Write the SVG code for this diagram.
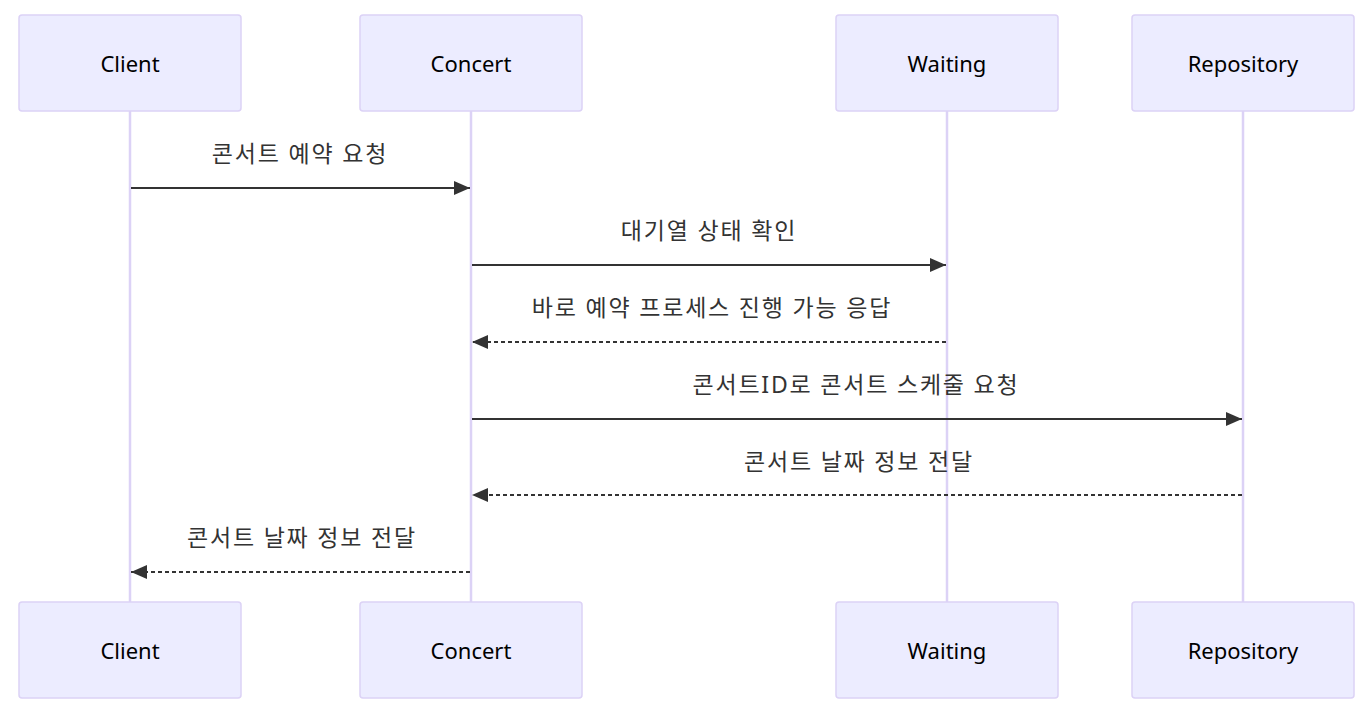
<svg xmlns="http://www.w3.org/2000/svg" width="1368" height="715" viewBox="0 0 1368 715">
<style>
.actor{fill:#ECECFF;stroke:#DCD2F6;stroke-width:1.5}
.life{stroke:#DCD2F6;stroke-width:2.5}
.atext{font-family:"Noto Sans","Noto Sans CJK KR",sans-serif;font-size:22px;fill:#000;text-anchor:middle;dominant-baseline:central}
.mtext{font-family:"Noto Sans","Noto Sans CJK KR",sans-serif;font-size:23px;letter-spacing:1.8px;fill:#333;text-anchor:middle;dominant-baseline:central}
.msg{stroke:#333;stroke-width:2;fill:none}
.dash{stroke-dasharray:4,3}
</style>
<defs>
<marker id="ah" viewBox="0 0 16 14" refX="16" refY="7" markerWidth="16" markerHeight="14" markerUnits="userSpaceOnUse" orient="auto">
<path d="M0,0 L16,7 L0,14 z" fill="#333"/>
</marker>
</defs>
<g id="lifelines">
<line class="life" x1="130" y1="111" x2="130" y2="602"/>
<line class="life" x1="471" y1="111" x2="471" y2="602"/>
<line class="life" x1="947" y1="111" x2="947" y2="602"/>
<line class="life" x1="1243" y1="111" x2="1243" y2="602"/>
</g>
<g id="actor-client-top"><rect class="actor" x="19" y="15" width="222" height="96" rx="3"/><text class="atext" x="130" y="63">Client</text></g>
<g id="actor-concert-top"><rect class="actor" x="360" y="15" width="222" height="96" rx="3"/><text class="atext" x="471" y="63">Concert</text></g>
<g id="actor-waiting-top"><rect class="actor" x="836" y="15" width="222" height="96" rx="3"/><text class="atext" x="947" y="63">Waiting</text></g>
<g id="actor-repository-top"><rect class="actor" x="1132" y="15" width="222" height="96" rx="3"/><text class="atext" x="1243" y="63">Repository</text></g>
<g id="actor-client-bottom"><rect class="actor" x="19" y="602" width="222" height="96" rx="3"/><text class="atext" x="130" y="650">Client</text></g>
<g id="actor-concert-bottom"><rect class="actor" x="360" y="602" width="222" height="96" rx="3"/><text class="atext" x="471" y="650">Concert</text></g>
<g id="actor-waiting-bottom"><rect class="actor" x="836" y="602" width="222" height="96" rx="3"/><text class="atext" x="947" y="650">Waiting</text></g>
<g id="actor-repository-bottom"><rect class="actor" x="1132" y="602" width="222" height="96" rx="3"/><text class="atext" x="1243" y="650">Repository</text></g>
<g id="messages">
<text class="mtext" x="300" y="153">콘서트 예약 요청</text>
<line class="msg" x1="131" y1="188" x2="470" y2="188" marker-end="url(#ah)"/>
<text class="mtext" x="709" y="230">대기열 상태 확인</text>
<line class="msg" x1="472" y1="265" x2="946" y2="265" marker-end="url(#ah)"/>
<text class="mtext" x="712" y="307">바로 예약 프로세스 진행 가능 응답</text>
<line class="msg dash" x1="946" y1="342" x2="472" y2="342" marker-end="url(#ah)"/>
<text class="mtext" x="856" y="384">콘서트ID로 콘서트 스케줄 요청</text>
<line class="msg" x1="472" y1="419" x2="1242" y2="419" marker-end="url(#ah)"/>
<text class="mtext" x="859" y="461">콘서트 날짜 정보 전달</text>
<line class="msg dash" x1="1242" y1="495" x2="472" y2="495" marker-end="url(#ah)"/>
<text class="mtext" x="302" y="537">콘서트 날짜 정보 전달</text>
<line class="msg dash" x1="470" y1="572" x2="131" y2="572" marker-end="url(#ah)"/>
</g>
</svg>
